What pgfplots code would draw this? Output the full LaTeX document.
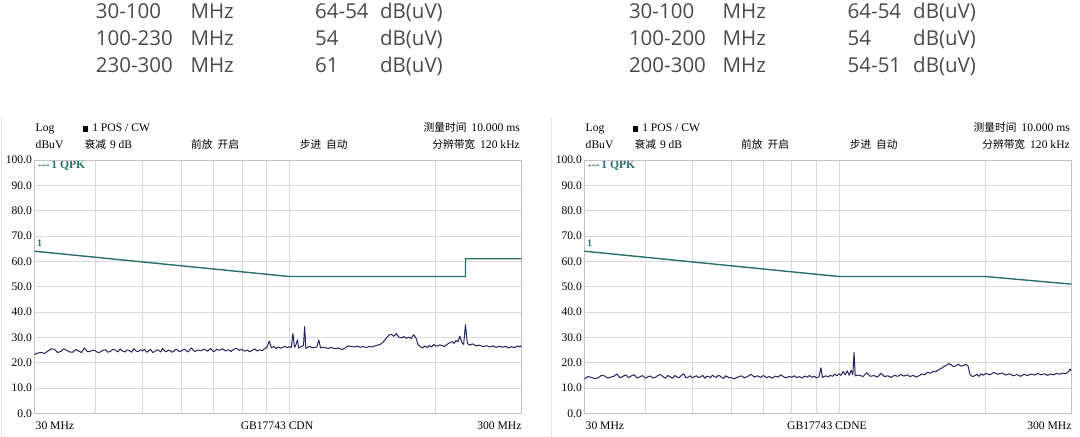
\documentclass[border=0pt]{standalone}
\usepackage{fontspec}
\setmainfont{Liberation Serif}
\newfontfamily\cjk{Noto Sans CJK SC}
\newfontfamily\topfont{Open Sans}
\usepackage{pgfplots}
\usepackage{pgfplotstable}
\pgfplotsset{compat=1.18}

\definecolor{limitc}{HTML}{2B6E69}
\definecolor{tracec}{HTML}{24245E}
\definecolor{gridc}{HTML}{D9D9D9}
\definecolor{framec}{HTML}{C2C2C2}
\definecolor{topc}{HTML}{4A4A4A}

% left scan (CDN), frequency in MHz, level in dBuV
\pgfplotstableread{
f dB
30 23.2
30.5 23.8
31 24.0
31.5 23.6
32 24.6
32.5 25.4
33 25.3
33.5 24.0
34 24.4
34.5 25.5
35 24.8
35.5 24.2
36 24.1
36.5 25.2
37 24.6
37.5 24.0
38 25.8
38.5 24.5
39 24.3
39.5 25.0
40 24.7
40.5 24.0
41 24.2
41.5 24.9
42 25.1
42.5 24.1
43 24.5
43.5 25.3
44 24.9
44.5 24.2
45 25.4
45.5 24.6
46 24.2
46.5 25.0
47 24.8
47.5 24.1
48 25.5
48.5 24.6
49 24.3
49.5 25.1
50 24.6
50.5 25.3
51 24.1
51.5 24.7
52 25.2
52.5 24.0
53 24.4
53.5 25.0
54 24.9
54.5 24.2
55 25.6
55.5 24.6
56 24.3
56.5 25.0
57 24.7
57.5 24.1
58 24.5
58.5 25.2
59 25.1
59.5 24.3
60 24.6
61 25.3
62 24.2
63 25.8
64 24.4
65 25.0
66 24.7
67 25.4
68 24.5
69 25.6
70 24.3
71 25.2
72 24.9
73 25.5
74 24.6
75 25.1
76 24.4
77 25.3
78 25.7
79 24.8
80 25.2
81 24.5
82 25.0
83 24.3
84 24.9
85 25.4
86 24.6
87 25.1
88 24.7
89 25.5
90 26.0
91 28.5
92 25.8
93 26.4
94 25.6
95 26.2
96 25.7
97 26.0
98 26.5
99 25.9
100 26.3
101 26.0
101.8 31.5
102.5 26.2
103 26.5
104 29.0
104.6 25.8
106 26.3
107 26.8
107.6 34.2
108.2 25.6
110 26.4
112 25.9
114 26.2
115 29.0
116 25.8
118 26.1
120 25.6
122 26.0
124 25.5
126 25.8
128 25.2
130 25.6
132 26.6
134 26.4
136 26.2
138 26.5
140 26.1
142 26.3
144 26.0
146 26.4
148 26.2
150 26.6
152 26.9
154 27.3
156 28.2
158 29.5
160 30.8
162 31.2
164 30.4
166 31.5
168 30.0
170 29.8
172 30.3
174 29.6
176 30.1
178 29.5
180 31.0
182 29.8
184 27.0
186 26.2
188 25.8
190 26.6
192 25.9
194 26.8
196 26.2
198 27.2
200 26.5
204 27.0
208 26.4
212 27.5
216 28.3
218 27.6
220 28.8
222 28.2
224 30.5
226 28.0
228 27.2
230 35.0
232 27.8
234 26.9
238 27.4
242 26.6
246 26.9
250 26.3
254 26.7
258 26.2
262 26.6
266 26.0
270 26.5
274 26.1
278 26.4
282 25.8
286 26.3
290 25.9
294 26.6
297 26.2
300 26.8
}\traceL

% right scan (CDNE)
\pgfplotstableread{
f dB
30 13.6
30.5 14.5
31 14.2
31.5 13.7
32 14.0
32.5 14.9
33 14.8
33.5 13.9
34 14.3
34.5 14.6
35 15.5
35.5 14.0
36 14.6
36.5 15.2
37 14.1
37.5 14.8
38 15.2
38.5 13.9
39 14.4
39.5 14.9
40 13.9
40.5 14.4
41 14.7
41.5 13.9
42 14.2
42.5 15.0
43 15.3
43.5 14.5
44 13.8
44.5 14.9
45 14.5
45.5 13.8
46 14.9
46.5 14.3
47 14.1
47.5 15.0
48 15.6
48.5 14.0
49 14.3
49.5 14.8
50 14.0
50.5 14.5
51 14.8
51.5 14.1
52 14.4
52.5 15.0
53 13.9
53.5 14.6
54 14.6
54.5 14.0
55 15.1
55.5 14.4
56 14.2
56.5 15.0
57 14.7
57.5 14.1
58 13.8
58.5 14.8
59 14.5
59.5 14.0
60 14.1
61 13.6
62 14.3
63 14.8
64 14.0
65 14.6
66 15.4
67 14.3
68 14.8
69 14.2
70 14.9
71 14.1
72 14.5
73 13.9
74 14.7
75 14.3
76 15.2
77 14.4
78 14.0
79 14.6
80 14.2
81 14.8
82 14.1
83 14.5
84 13.9
85 14.7
86 14.3
87 14.9
88 14.2
89 14.6
90 14.0
91 14.4
91.8 18.0
92.5 14.2
94 14.8
95 14.3
96 15.0
97 14.6
98 15.4
99 14.8
100 15.6
101 15.0
102 16.5
103 15.2
104 16.8
105 15.0
106 17.0
106.8 15.2
107.4 24.0
108 14.8
110 15.1
112 14.5
114 16.0
116 14.6
118 14.9
120 14.3
122 15.8
124 14.5
126 14.8
128 14.2
130 15.0
132 14.6
134 15.3
136 14.7
138 15.2
140 14.5
142 15.0
144 14.3
146 14.8
148 15.5
150 15.2
152 16.2
154 15.8
156 16.6
158 16.3
160 17.2
162 17.6
164 18.4
166 18.9
168 19.6
170 19.2
172 18.4
174 18.8
176 19.4
178 18.6
180 18.9
182 19.3
184 18.8
186 15.2
188 14.5
190 14.8
192 15.4
194 14.6
196 15.6
198 15.0
200 15.8
204 15.2
208 16.1
212 15.4
216 15.9
220 15.1
224 15.6
228 14.8
232 15.3
236 14.6
240 15.4
244 14.9
248 15.5
252 15.1
256 15.7
260 15.2
264 15.6
268 15.0
272 15.5
276 15.2
280 15.8
284 15.4
288 15.9
292 15.6
296 16.4
298 17.5
300 16.8
}\traceR

\newcommand{\cjkf}{\cjk\fontsize{10.7bp}{12bp}\selectfont}
\newcommand{\hdr}[2]{% header of one panel, #1 = x offset, #2 = bottom label
  \begin{scope}[xshift=#1, font=\fontsize{11.6bp}{13bp}\selectfont]
    \node[anchor=base west, inner sep=0] at (35.5bp,305bp) {Log};
    \node[anchor=base west, inner sep=0] at (82.6bp,305bp) {\rule{5.5bp}{5.5bp}\hspace{4bp}1 POS / CW};
    \node[anchor=base east, inner sep=0] at (520bp,305bp) {{\cjkf 测量时间}\hspace{5bp}10.000 ms};
    \node[anchor=base west, inner sep=0] at (35.5bp,288bp) {dBuV};
    \node[anchor=base west, inner sep=0] at (84.4bp,288bp) {{\cjkf 衰减}\hspace{4bp}9 dB};
    \node[anchor=base west, inner sep=0] at (191bp,288bp) {\cjkf 前放\hspace{5bp}开启};
    \node[anchor=base west, inner sep=0] at (299.6bp,288bp) {\cjkf 步进\hspace{5bp}自动};
    \node[anchor=base east, inner sep=0] at (520bp,288bp) {{\cjkf 分辨带宽}\hspace{5bp}120 kHz};
    \node[anchor=base west, inner sep=0, text=limitc] at (37.7bp,268.5bp) {\textbf{-{}-{}-\,1 QPK}};
    \node[anchor=base west, inner sep=0] at (35.5bp,8bp) {30 MHz};
    \node[anchor=base, inner sep=0] at (277bp,8bp) {#2};
    \node[anchor=base east, inner sep=0] at (521.7bp,8bp) {300 MHz};
    \node[anchor=base west, inner sep=0, text=limitc, font=\bfseries\fontsize{10bp}{12bp}\selectfont] at (37bp,190bp) {1};
  \end{scope}}

\begin{document}
\begin{tikzpicture}
\useasboundingbox (0,0) rectangle (1080bp,437bp);

% limit tables above the plots
\begin{scope}[font=\topfont\fontsize{20.5bp}{24bp}\selectfont, text=topc]
  \foreach \yy/\aa/\bb in {418/30-100/64-54, 391.5/100-230/54, 364.5/230-300/61} {
    \node[anchor=base west, inner sep=0] at (95.7bp,\yy bp) {\aa};
    \node[anchor=base west, inner sep=0] at (190.4bp,\yy bp) {MHz};
    \node[anchor=base west, inner sep=0] at (315bp,\yy bp) {\bb};
    \node[anchor=base west, inner sep=0] at (379.8bp,\yy bp) {dB(uV)};
  }
  \foreach \yy/\aa/\bb in {418/30-100/64-54, 391.5/100-200/54, 364.5/200-300/54-51} {
    \node[anchor=base west, inner sep=0] at (628.8bp,\yy bp) {\aa};
    \node[anchor=base west, inner sep=0] at (722.5bp,\yy bp) {MHz};
    \node[anchor=base west, inner sep=0] at (847.5bp,\yy bp) {\bb};
    \node[anchor=base west, inner sep=0] at (913bp,\yy bp) {dB(uV)};
  }
\end{scope}

% faint panel edges
\draw[black!10, line width=0.6bp] (1bp,0) -- (1bp,319bp);
\draw[black!10, line width=0.6bp] (551.7bp,0) -- (551.7bp,319bp);

\hdr{0bp}{GB17743 CDN}
\hdr{550bp}{GB17743 CDNE}

\begin{axis}[
    at={(34.3bp,23.7bp)}, anchor=south west,
    scale only axis, width=487.4bp, height=253.3bp,
    xmode=log, xmin=30, xmax=300, ymin=0, ymax=100,
    xtick={40,50,60,70,80,90,100,200}, xticklabels={},
    ytick={0,10,...,100},
    yticklabel={\pgfmathprintnumber[fixed,fixed zerofill,precision=1,assume math mode=true]{\tick}},
    yticklabel style={font=\fontsize{11.6bp}{13bp}\selectfont, inner sep=2.2bp},
    major tick length=0pt, grid=major,
    grid style={gridc, line width=0.8bp},
    axis line style={framec, line width=0.9bp},
  ]
  \addplot[tracec, line width=1bp, line join=round] table[x=f, y=dB] {\traceL};
  \addplot[limitc, line width=1.4bp] coordinates {(30,64) (100,54) (230,54) (230,61) (300,61)};
\end{axis}

\begin{axis}[
    at={(584.3bp,23.7bp)}, anchor=south west,
    scale only axis, width=487bp, height=253.3bp,
    xmode=log, xmin=30, xmax=300, ymin=0, ymax=100,
    xtick={40,50,60,70,80,90,100,200}, xticklabels={},
    ytick={0,10,...,100},
    yticklabel={\pgfmathprintnumber[fixed,fixed zerofill,precision=1,assume math mode=true]{\tick}},
    yticklabel style={font=\fontsize{11.6bp}{13bp}\selectfont, inner sep=2.2bp},
    major tick length=0pt, grid=major,
    grid style={gridc, line width=0.8bp},
    axis line style={framec, line width=0.9bp},
  ]
  \addplot[tracec, line width=1bp, line join=round] table[x=f, y=dB] {\traceR};
  \addplot[limitc, line width=1.4bp] coordinates {(30,64) (100,54) (200,54) (300,51)};
\end{axis}
\end{tikzpicture}
\end{document}
